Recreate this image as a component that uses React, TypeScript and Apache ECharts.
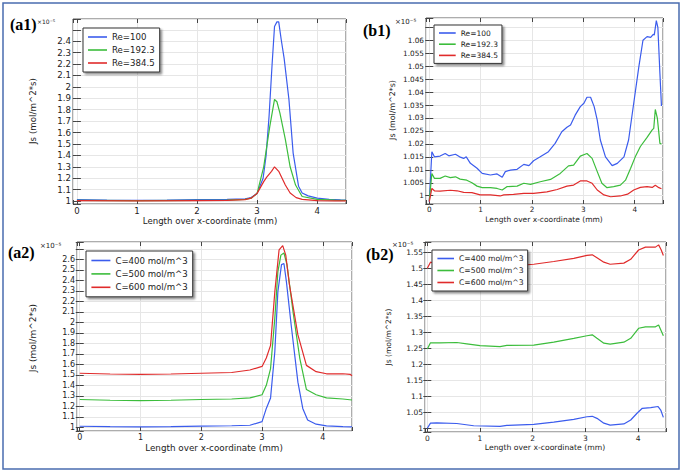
import React, { useEffect, useRef } from "react";
import * as echarts from "echarts";

// ---------- data (x in mm, y in 1e-5 mol/(m^2*s)) ----------
const reNames = ["Re=100", "Re=192.3", "Re=384.5"];
const cNames = ["C=400 mol/m^3", "C=500 mol/m^3", "C=600 mol/m^3"];

// (a1)
const a1BlueX = [0, 0.5, 1, 1.5, 2, 2.5, 2.8, 2.9, 3.0, 3.1, 3.15, 3.2, 3.25, 3.29, 3.33, 3.36, 3.4, 3.45, 3.53, 3.6, 3.69, 3.75, 3.85, 4.0, 4.2, 4.39, 4.48];
const a1BlueY = [1.012, 1.008, 1.006, 1.008, 1.012, 1.014, 1.02, 1.03, 1.067, 1.2, 1.4, 1.75, 2.2, 2.53, 2.57, 2.57, 2.42, 2.25, 1.89, 1.42, 1.13, 1.07, 1.045, 1.025, 1.015, 1.01, 1.008];
const a1GreenX = [0, 1, 2, 2.5, 2.8, 2.9, 3.0, 3.11, 3.21, 3.29, 3.33, 3.38, 3.47, 3.55, 3.64, 3.75, 4.0, 4.3, 4.48];
const a1GreenY = [1.006, 1.004, 1.006, 1.008, 1.015, 1.025, 1.067, 1.3, 1.65, 1.89, 1.87, 1.77, 1.54, 1.3, 1.14, 1.04, 1.015, 1.008, 1.006];
const a1RedX = [0, 1, 2, 2.5, 2.8, 2.9, 3.0, 3.11, 3.16, 3.24, 3.29, 3.36, 3.47, 3.55, 3.65, 3.75, 4.0, 4.3, 4.48];
const a1RedY = [1.003, 1.002, 1.004, 1.006, 1.012, 1.025, 1.067, 1.17, 1.21, 1.26, 1.3, 1.26, 1.14, 1.07, 1.03, 1.015, 1.004, 1.002, 1.002];

// (b1)
const b1BlueX = [0, 0.05, 0.1, 0.21, 0.31, 0.38, 0.51, 0.59, 0.67, 0.72, 0.8, 0.93, 1.03, 1.19, 1.32, 1.42, 1.48, 1.58, 1.71, 1.84, 1.94, 2.03, 2.16, 2.32, 2.45, 2.58, 2.68, 2.75, 2.84, 2.94, 3.01, 3.07, 3.14, 3.21, 3.27, 3.33, 3.43, 3.56, 3.66, 3.79, 3.88, 3.98, 4.08, 4.16, 4.24, 4.31, 4.36, 4.38, 4.42, 4.45, 4.49, 4.52];
const b1BlueY = [0.9977, 1.017, 1.015, 1.0153, 1.0163, 1.0154, 1.016, 1.015, 1.0144, 1.015, 1.0125, 1.0106, 1.0086, 1.008, 1.0084, 1.0071, 1.0093, 1.0099, 1.0102, 1.0121, 1.0116, 1.0135, 1.015, 1.017, 1.0202, 1.0247, 1.0264, 1.0273, 1.0311, 1.0344, 1.0357, 1.038, 1.038, 1.0344, 1.0292, 1.0215, 1.015, 1.0116, 1.0125, 1.015, 1.0215, 1.0357, 1.0498, 1.06, 1.0614, 1.0611, 1.0623, 1.062, 1.0676, 1.065, 1.0472, 1.0346];
const b1GreenX = [0, 0.05, 0.1, 0.21, 0.31, 0.41, 0.51, 0.6, 0.73, 0.83, 0.93, 1.03, 1.19, 1.32, 1.42, 1.51, 1.71, 1.84, 1.97, 2.16, 2.36, 2.55, 2.71, 2.81, 2.94, 3.07, 3.17, 3.27, 3.36, 3.46, 3.59, 3.72, 3.82, 3.92, 4.01, 4.11, 4.24, 4.34, 4.37, 4.4, 4.44, 4.49, 4.52];
const b1GreenY = [0.998, 1.0086, 1.0067, 1.0067, 1.0076, 1.007, 1.0073, 1.0064, 1.006, 1.005, 1.0037, 1.0031, 1.0031, 1.0028, 1.0022, 1.0035, 1.0037, 1.0048, 1.0044, 1.0054, 1.0063, 1.0086, 1.0115, 1.0118, 1.0153, 1.0163, 1.0144, 1.0093, 1.0048, 1.0031, 1.0035, 1.0041, 1.006, 1.0106, 1.015, 1.019, 1.0225, 1.0254, 1.026, 1.0333, 1.0299, 1.0202, 1.02];
const b1RedX = [0, 0.05, 0.1, 0.21, 0.41, 0.54, 0.67, 0.83, 0.99, 1.19, 1.38, 1.45, 1.64, 1.84, 2.03, 2.29, 2.49, 2.68, 2.81, 2.94, 3.07, 3.17, 3.27, 3.4, 3.53, 3.72, 3.86, 3.98, 4.11, 4.24, 4.34, 4.4, 4.47, 4.52];
const b1RedY = [0.9977, 1.0028, 1.0019, 1.0018, 1.0021, 1.0019, 1.0013, 1.0012, 1.0003, 1.0003, 0.9999, 1.0003, 1.0005, 1.0009, 1.0009, 1.0015, 1.0024, 1.0037, 1.0041, 1.0057, 1.0057, 1.0048, 1.0022, 1.0003, 0.9996, 0.9999, 1.0006, 1.0022, 1.0032, 1.0035, 1.0032, 1.004, 1.0031, 1.0027];

// (a2)
const a2BlueX = [0, 0.5, 1, 1.5, 2, 2.5, 2.8, 3.0, 3.07, 3.14, 3.21, 3.26, 3.32, 3.36, 3.4, 3.48, 3.59, 3.67, 3.75, 3.89, 4.06, 4.33, 4.48];
const a2BlueY = [1.01, 1.006, 1.005, 1.007, 1.012, 1.015, 1.02, 1.054, 1.18, 1.28, 1.72, 2.29, 2.55, 2.56, 2.39, 1.97, 1.43, 1.18, 1.07, 1.03, 1.013, 1.006, 1.005];
const a2GreenX = [0, 0.5, 1, 1.5, 2, 2.5, 2.8, 3.0, 3.07, 3.14, 3.21, 3.26, 3.31, 3.36, 3.41, 3.51, 3.62, 3.73, 3.89, 4.06, 4.33, 4.48];
const a2GreenY = [1.265, 1.258, 1.255, 1.258, 1.265, 1.27, 1.28, 1.31, 1.4, 1.56, 2.04, 2.48, 2.64, 2.66, 2.55, 2.1, 1.66, 1.36, 1.31, 1.28, 1.27, 1.26];
const a2RedX = [0, 0.5, 1, 1.5, 2, 2.5, 2.8, 3.0, 3.07, 3.14, 3.21, 3.28, 3.34, 3.39, 3.45, 3.59, 3.73, 3.89, 4.06, 4.33, 4.45, 4.48];
const a2RedY = [1.515, 1.508, 1.505, 1.508, 1.515, 1.522, 1.546, 1.58, 1.66, 1.78, 2.29, 2.69, 2.73, 2.64, 2.36, 1.88, 1.59, 1.53, 1.51, 1.51, 1.505, 1.49];

// (b2)
const b2BlueX = [0, 0.06, 0.18, 0.56, 0.88, 1.38, 1.51, 2.02, 2.4, 2.78, 3.03, 3.13, 3.22, 3.35, 3.47, 3.73, 3.86, 3.98, 4.08, 4.24, 4.38, 4.43, 4.48];
const b2BlueY = [1.0, 1.016, 1.017, 1.015, 1.008, 1.006, 1.009, 1.0125, 1.019, 1.028, 1.036, 1.0375, 1.031, 1.016, 1.01, 1.0135, 1.026, 1.047, 1.0625, 1.0646, 1.068, 1.057, 1.034];
const b2GreenX = [0, 0.06, 0.24, 0.56, 0.75, 1.0, 1.38, 1.51, 2.02, 2.4, 2.78, 3.03, 3.13, 3.22, 3.35, 3.47, 3.73, 3.86, 4.01, 4.14, 4.33, 4.39, 4.44, 4.48];
const b2GreenY = [1.248, 1.267, 1.267, 1.268, 1.264, 1.258, 1.255, 1.259, 1.26, 1.269, 1.281, 1.289, 1.292, 1.281, 1.266, 1.263, 1.269, 1.281, 1.3125, 1.317, 1.317, 1.323, 1.304, 1.289];
const b2RedX = [0, 0.06, 0.18, 0.37, 0.75, 1.0, 1.38, 1.51, 2.02, 2.4, 2.78, 3.03, 3.13, 3.22, 3.35, 3.47, 3.73, 3.86, 4.01, 4.14, 4.33, 4.39, 4.44, 4.48];
const b2RedY = [1.5, 1.519, 1.5125, 1.51, 1.508, 1.505, 1.502, 1.506, 1.5125, 1.521, 1.531, 1.54, 1.542, 1.533, 1.519, 1.5125, 1.516, 1.528, 1.557, 1.566, 1.566, 1.573, 1.557, 1.54];

const xTicksStep = 1;
const panelLabels = ["(a1)", "(b1)", "(a2)", "(b2)"];

// ---------- layout / style ----------
const COLORS = ["#3b5ced", "#3cbd3c", "#e02b2b"];
const FONT = "DejaVu Sans";
const TEXT = "#222";

const GRIDS = [
  { left: 73, top: 19, width: 273, height: 185 },
  { left: 426, top: 18, width: 237, height: 186 },
  { left: 77, top: 242, width: 275, height: 189 },
  { left: 425, top: 242, width: 241, height: 190 },
];
const AX = [
  { xMin: -0.065, xMax: 4.48, yMin: 0.974, yMax: 2.595, yStep: 0.1, yHide: 2.5, font: 8.6 },
  { xMin: -0.064, xMax: 4.55, yMin: 0.9968, yMax: 1.0686, yStep: 0.005, yHide: 1.065, font: 7.3 },
  { xMin: -0.045, xMax: 4.48, yMin: 0.965, yMax: 2.765, yStep: 0.1, yHide: 2.7, font: 8 },
  { xMin: -0.044, xMax: 4.53, yMin: 0.9884, yMax: 1.582, yStep: 0.05, yHide: null as number | null, font: 7.5 },
];

function pairs(xs: number[], ys: number[]) {
  return xs.map((x, i) => [x, ys[i]]);
}

function fmt(step: number, hide: number | null) {
  return (v: number) => {
    const k = Math.round(v / step);
    if (Math.abs(v - k * step) > step * 1e-3) return "";
    if (hide != null && Math.abs(v - hide) < step * 1e-3) return "";
    return String(+(k * step).toFixed(4));
  };
}

export default function App() {
  const ref = useRef<HTMLDivElement>(null);
  useEffect(() => {
    if (!ref.current) return;
    const chart = echarts.init(ref.current, null, { renderer: "svg" });

    const seriesData = [
      [pairs(a1BlueX, a1BlueY), pairs(a1GreenX, a1GreenY), pairs(a1RedX, a1RedY)],
      [pairs(b1BlueX, b1BlueY), pairs(b1GreenX, b1GreenY), pairs(b1RedX, b1RedY)],
      [pairs(a2BlueX, a2BlueY), pairs(a2GreenX, a2GreenY), pairs(a2RedX, a2RedY)],
      [pairs(b2BlueX, b2BlueY), pairs(b2GreenX, b2GreenY), pairs(b2RedX, b2RedY)],
    ];
    const names = [reNames, reNames, cNames, cNames];

    const grid = GRIDS.map((g) => ({
      ...g,
      show: true,
      borderColor: "#5a5a5a",
      borderWidth: 1,
      backgroundColor: "#fff",
      containLabel: false,
    }));

    const tick = { show: true, inside: true, length: 4, lineStyle: { color: "#444" } };
    const xAxis: any[] = [];
    const yAxis: any[] = [];
    AX.forEach((a, i) => {
      xAxis.push({
        type: "value",
        gridIndex: i,
        position: "bottom",
        min: a.xMin,
        max: a.xMax,
        minInterval: xTicksStep,
        maxInterval: xTicksStep,
        axisLine: { show: false },
        axisTick: tick,
        axisLabel: { show: true, margin: 2, fontSize: a.font, fontFamily: FONT, color: TEXT, formatter: fmt(xTicksStep, null), showMinLabel: true, showMaxLabel: true, hideOverlap: false },
        splitLine: { show: true, lineStyle: { color: "#e6e6e6", width: 1 } },
      });
    });
    AX.forEach((a, i) => {
      xAxis.push({
        type: "value",
        gridIndex: i,
        position: "top",
        min: a.xMin,
        max: a.xMax,
        minInterval: xTicksStep,
        maxInterval: xTicksStep,
        axisLine: { show: false },
        axisLabel: { show: false },
        splitLine: { show: false },
        axisTick: tick,
      });
    });
    AX.forEach((a, i) => {
      yAxis.push({
        type: "value",
        gridIndex: i,
        position: "left",
        min: a.yMin,
        max: a.yMax,
        minInterval: a.yStep,
        maxInterval: a.yStep,
        splitNumber: 20,
        axisLine: { show: false },
        axisTick: tick,
        axisLabel: { show: true, margin: 2, fontSize: a.font, fontFamily: FONT, color: TEXT, formatter: fmt(a.yStep, a.yHide), showMinLabel: true, showMaxLabel: true, hideOverlap: false },
        splitLine: { show: true, lineStyle: { color: "#e6e6e6", width: 1 } },
      });
    });
    AX.forEach((a, i) => {
      yAxis.push({
        type: "value",
        gridIndex: i,
        position: "right",
        min: a.yMin,
        max: a.yMax,
        minInterval: a.yStep,
        maxInterval: a.yStep,
        splitNumber: 20,
        axisLine: { show: false },
        axisLabel: { show: false },
        splitLine: { show: false },
        axisTick: tick,
      });
    });

    const series: any[] = [];
    seriesData.forEach((panel, p) => {
      panel.forEach((d, k) => {
        series.push({
          type: "line",
          name: names[p][k],
          xAxisIndex: p,
          yAxisIndex: p,
          data: d,
          symbol: "none",
          showSymbol: false,
          color: COLORS[k],
          lineStyle: { color: COLORS[k], width: 1.2 },
          z: 3,
        });
      });
    });

    const legendBase = {
      orient: "vertical",
      icon: "rect",
      itemHeight: 1.6,
      selectedMode: false,
      backgroundColor: "#fff",
      borderColor: "#333",
      borderWidth: 1,
      shadowColor: "rgba(0,0,0,0.45)",
      shadowBlur: 2,
      shadowOffsetX: 2,
      shadowOffsetY: 2,
    };
    const legend = [
      { ...legendBase, data: reNames, left: 83, top: 28, itemWidth: 19, itemGap: 4, padding: [4.5, 5, 4.5, 5], textStyle: { fontSize: 8.6, fontFamily: FONT, color: TEXT } },
      { ...legendBase, data: reNames, left: 434, top: 25, itemWidth: 16.7, itemGap: 3.2, padding: [4, 4, 4, 5], textStyle: { fontSize: 7.5, fontFamily: FONT, color: TEXT } },
      { ...legendBase, data: cNames, left: 86, top: 251, itemWidth: 19, itemGap: 4.4, padding: [5, 5, 5, 5.4], textStyle: { fontSize: 8.6, fontFamily: FONT, color: TEXT } },
      { ...legendBase, data: cNames, left: 432, top: 250, itemWidth: 16.6, itemGap: 4, padding: [4.5, 4, 4.5, 5.4], textStyle: { fontSize: 7.7, fontFamily: FONT, color: TEXT } },
    ];

    const txt = (text: string, x: number, y: number, font: string, opts: any = {}) => ({
      type: "text",
      x,
      y,
      rotation: opts.rotation || 0,
      style: {
        text,
        font,
        fill: opts.fill || TEXT,
        textAlign: opts.align || "left",
        align: opts.align || "left",
        textVerticalAlign: "middle",
        verticalAlign: "middle",
      },
      z: 10,
    });

    const graphic: any[] = [
      { type: "rect", shape: { x: 3, y: 3, width: 676, height: 466 }, style: { fill: "none", stroke: "#4a6cb0", lineWidth: 1.5 }, z: 0 },
      txt(panelLabels[0], 10, 24, "bold 16px 'Liberation Serif'", { fill: "#000" }),
      txt("×10⁻⁵", 37, 21, "6px 'DejaVu Sans'"),
      txt(panelLabels[1], 363, 30, "bold 16px 'Liberation Serif'", { fill: "#000" }),
      txt("×10⁻⁵", 395, 21.5, "7px 'DejaVu Sans'"),
      txt(panelLabels[2], 8, 252, "bold 16px 'Liberation Serif'", { fill: "#000" }),
      txt("×10⁻⁵", 40, 246, "7px 'DejaVu Sans'"),
      txt(panelLabels[3], 366, 254, "bold 16px 'Liberation Serif'", { fill: "#000" }),
      txt("×10⁻⁵", 392, 244.5, "7px 'DejaVu Sans'"),
      txt("Length over x-coordinate (mm)", 210, 220.5, "8.6px 'DejaVu Sans'", { align: "center" }),
      txt("Length over x-coordinate (mm)", 544, 219.5, "7.5px 'DejaVu Sans'", { align: "center" }),
      txt("Length over x-coordinate (mm)", 214, 448, "8.8px 'DejaVu Sans'", { align: "center" }),
      txt("Length over x-coordinate (mm)", 545, 447.5, "7.7px 'DejaVu Sans'", { align: "center" }),
      txt("Js (mol/m^2*s)", 33, 111, "8.7px 'DejaVu Sans'", { align: "center", rotation: Math.PI / 2 }),
      txt("Js (mol/m^2*s)", 392, 110, "7.9px 'DejaVu Sans'", { align: "center", rotation: Math.PI / 2 }),
      txt("Js (mol/m^2*s)", 33, 338, "9px 'DejaVu Sans'", { align: "center", rotation: Math.PI / 2 }),
      txt("Js (mol/m^2*s)", 388, 337, "7.5px 'DejaVu Sans'", { align: "center", rotation: Math.PI / 2 }),
    ];

    chart.setOption({
      animation: false,
      backgroundColor: "#fff",
      grid,
      xAxis,
      yAxis,
      series,
      legend,
      graphic,
    });
    return () => chart.dispose();
  }, []);
  return <div ref={ref} style={{ position: "absolute", left: 0, top: 0, width: 685, height: 472 }} />;
}
